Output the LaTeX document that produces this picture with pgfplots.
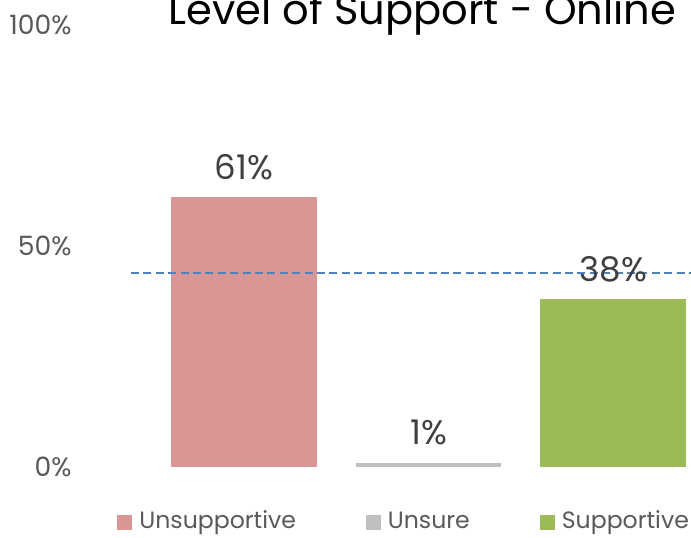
\documentclass[border=0pt]{standalone}
\usepackage{pgfplots}
\pgfplotsset{compat=1.18}
\usepackage{fontspec}
\setmainfont{Poppins}
\definecolor{cUnsup}{HTML}{D99694}
\definecolor{cUnsure}{HTML}{BFBFBF}
\definecolor{cSup}{HTML}{9BBB59}
\definecolor{cLine}{HTML}{4F81BD}
\definecolor{cTick}{HTML}{595959}
\definecolor{cLab}{HTML}{404040}
\begin{document}
\begin{tikzpicture}[x=1pt,y=1pt]
\clip (-65.5,-35) rectangle (280,233.5);
\begin{axis}[
  at={(0,0)}, anchor=south west,
  width=297.5pt, height=221pt, scale only axis,
  xmin=-0.61, xmax=2.61, ymin=0, ymax=100,
  clip=false,
  axis line style={draw=none},
  tick style={draw=none},
  xtick=\empty,
  ytick={0,50,100},
  yticklabel={\pgfmathprintnumber{\tick}\%},
  yticklabel style={anchor=east, inner sep=0pt, xshift=-29.5pt, text=cTick, font=\fontsize{13.3}{16}\selectfont},
  /pgf/number format/assume math mode=true,
  bar width=0.79,
  nodes near coords={\pgfmathprintnumber{\pgfplotspointmeta}\%},
  nodes near coords style={anchor=base, inner sep=0pt, yshift=9pt, text=cLab, font=\fontsize{17}{20}\selectfont},
  legend columns=3,
  legend image code/.code={\fill[#1] (0pt,-3.75pt) rectangle (7.5pt,3.75pt);},
  legend style={at={(-0.0235,-0.126)}, anchor=west, draw=none, fill=none, inner sep=0pt,
    font=\fontsize{11.8}{14}\selectfont, text=cTick,
    nodes={inner sep=0pt, text height=8.6pt, text depth=2.6pt},
    /tikz/every odd column/.append style={column sep=3.5pt},
    /tikz/every even column/.append style={column sep=35pt}},
]
\addplot[ybar, bar shift=0pt, fill=cUnsup, draw=none] coordinates {(0,61)};
\addlegendentry{Unsupportive}
\addplot[ybar, bar shift=0pt, fill=cUnsure, draw=none] coordinates {(1,1)};
\addlegendentry{Unsure}
\addplot[ybar, bar shift=0pt, fill=cSup, draw=none] coordinates {(2,38)};
\addlegendentry{Supportive}
\addplot[sharp plot, no marks, color=cLine, line width=1pt, dash pattern=on 4pt off 2.2pt, forget plot, nodes near coords={}] coordinates {(-0.61,44) (2.61,44)};
\node[anchor=base, font=\fontsize{20.8}{24}\selectfont, yshift=0.5pt] at (rel axis cs:0.49,1) {Level of Support - Online};
\end{axis}
\end{tikzpicture}
\end{document}
